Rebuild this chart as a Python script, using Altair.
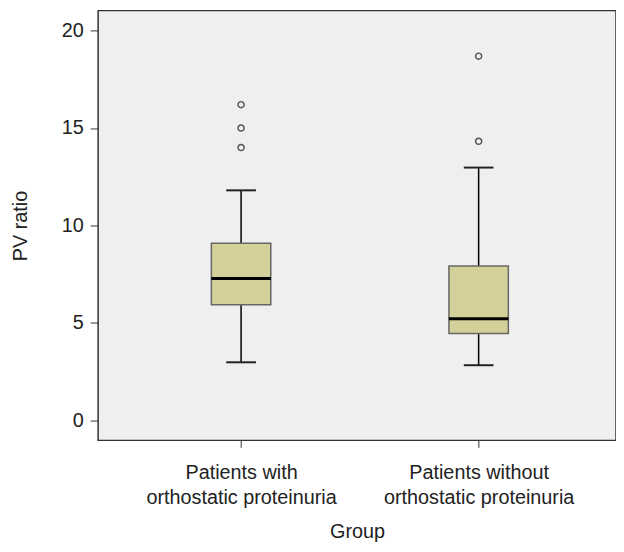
import altair as alt
import pandas as pd

groups = ["Patients with|orthostatic proteinuria", "Patients without|orthostatic proteinuria"]
lower_whisker = [2.97, 2.82]
q1 = [5.92, 4.45]
median = [7.27, 5.21]
q3 = [9.08, 7.92]
upper_whisker = [11.8, 12.97]
outlier_group = [groups[0], groups[0], groups[0], groups[1], groups[1]]
outlier_value = [16.2, 15.0, 14.0, 18.69, 14.32]

stats = pd.DataFrame({
    "group": groups, "lo": lower_whisker, "q1": q1, "med": median,
    "q3": q3, "hi": upper_whisker,
})
outliers = pd.DataFrame({"group": outlier_group, "value": outlier_value})

x = alt.X(
    "group:N", sort=groups,
    scale=alt.Scale(type="point", padding=0.59, align=0.51),
    axis=alt.Axis(
        title="Group", labelExpr="split(datum.label, '|')", labelAngle=0,
        labelLineHeight=26, labelPadding=15, titlePadding=14,
        tickSize=7, labelBaseline="top", labelLimit=0,
    ),
)
yscale = alt.Scale(domain=[-1.04, 21.03], nice=False, zero=False)
yaxis = alt.Axis(title="PV ratio", values=[0, 5, 10, 15, 20], tickSize=8,
                 labelPadding=7, titlePadding=31, grid=False)

base = alt.Chart(stats).encode(x=x)

whisk = base.mark_rule(color="black", strokeWidth=1.5).encode(
    y=alt.Y("lo:Q", scale=yscale, axis=yaxis), y2="hi:Q")
box = base.mark_bar(size=60, color="#d4d09a", stroke="#666666", strokeWidth=1.5,
                    opacity=1).encode(
    y=alt.Y("q1:Q", scale=yscale, axis=yaxis), y2="q3:Q")
med = base.mark_tick(size=60, thickness=3, color="black", opacity=1).encode(
    y=alt.Y("med:Q", scale=yscale, axis=yaxis))
cap_hi = base.mark_tick(size=30, thickness=2, color="#222222", opacity=1).encode(
    y=alt.Y("hi:Q", scale=yscale, axis=yaxis))
cap_lo = base.mark_tick(size=30, thickness=2, color="#222222", opacity=1).encode(
    y=alt.Y("lo:Q", scale=yscale, axis=yaxis))
pts = alt.Chart(outliers).mark_point(
    shape="circle", size=38, filled=True, fill="#eef1f6", stroke="#555555",
    strokeWidth=1.5, opacity=1,
).encode(x=x, y=alt.Y("value:Q", scale=yscale, axis=yaxis))

chart = alt.layer(whisk, box, med, cap_hi, cap_lo, pts).properties(
    width=614, height=536,
    autosize=alt.AutoSizeParams(type="fit", contains="padding"),
    padding={"left": 2, "top": 0, "right": 0, "bottom": 0},
).configure_view(
    fill="#efefef", stroke="#333333", strokeWidth=1.5,
).configure_axis(
    domain=False, tickColor="#333333", labelColor="#222222", titleColor="#222222",
    labelFont="Liberation Sans", titleFont="Liberation Sans",
    labelFontSize=20, titleFontSize=20, titleFontWeight="normal",
)

chart.save("out.html", embed_options={"renderer": "svg", "actions": False})
